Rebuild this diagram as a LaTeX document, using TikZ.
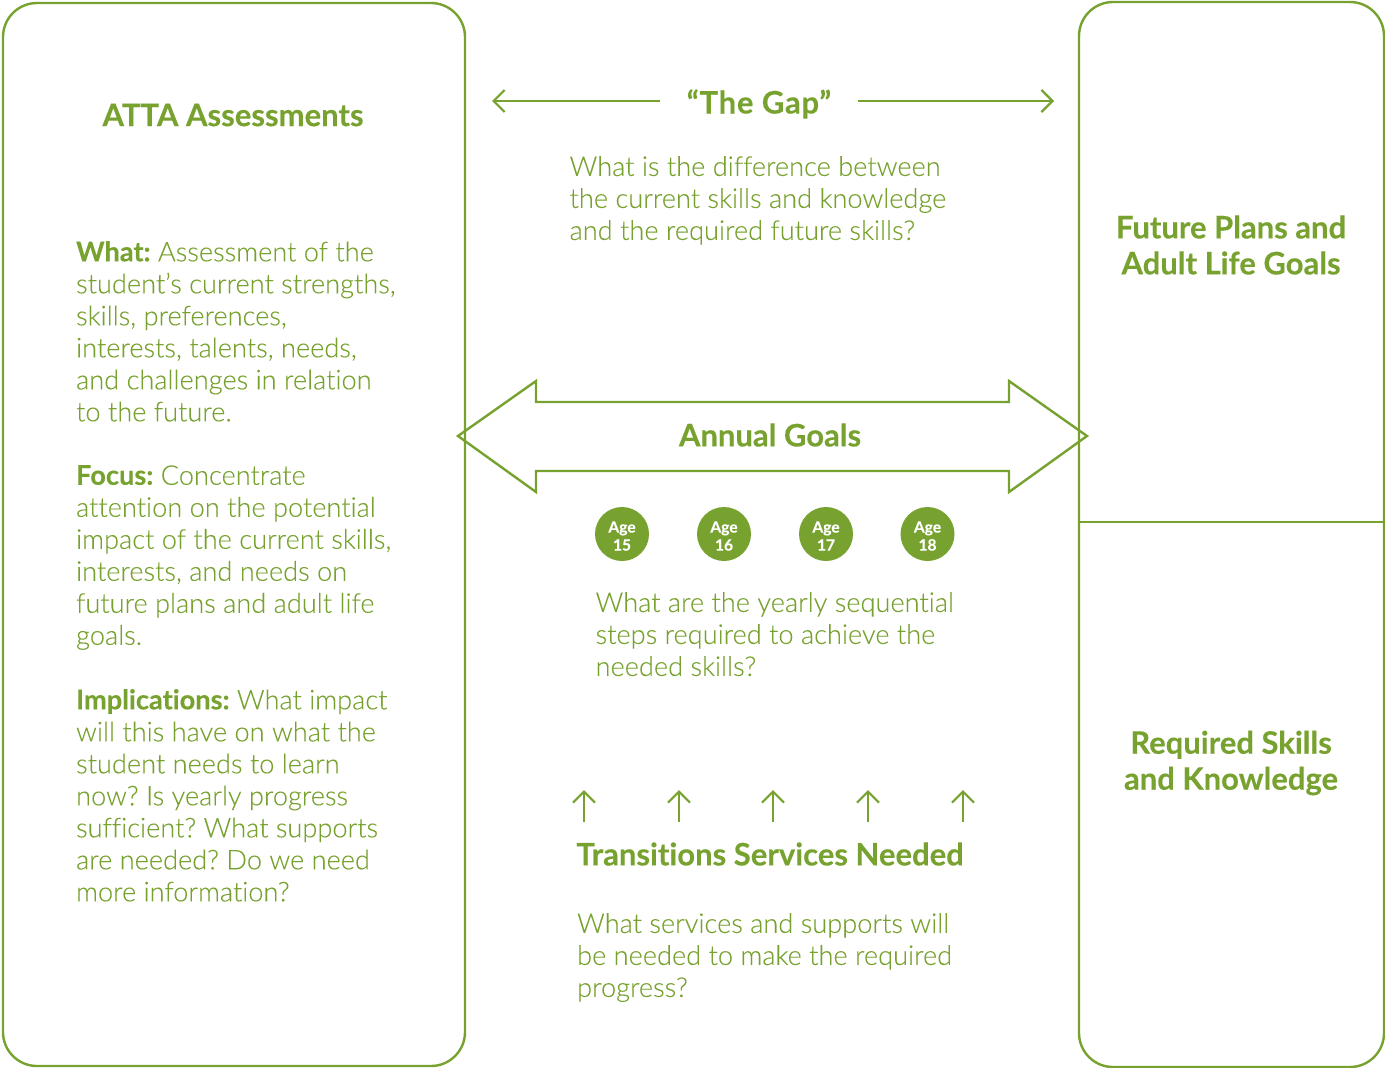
\documentclass[tikz,border=0pt]{standalone}
\usepackage{fontspec}
\setmainfont{Lato}[UprightFont=* Light,UprightFeatures={FakeBold=0.1},BoldFont=* Bold,BoldFeatures={FakeBold=0.25},Ligatures=NoCommon]
\usepackage{tikz}
\usetikzlibrary{positioning,arrows.meta}
\definecolor{attagreen}{HTML}{78A22F}
\begin{document}
\begin{tikzpicture}[x=0.5pt,y=-0.5pt,
line width=1.1pt, color=attagreen, text=attagreen,
>={Straight Barb[length=5.5pt,width=11pt,line width=1.1pt]},
panel/.style = {draw=attagreen, line width=1.2pt, rounded corners=17pt},
heading/.style = {font=\fontsize{15.5}{18}\selectfont\bfseries, align=center, inner sep=0pt},
bodytext/.style = {font=\fontsize{13.6}{16}\selectfont\frenchspacing, align=left, anchor=north west, inner sep=0pt},
agedot/.style = {circle, fill=attagreen, text=white, minimum size=27pt, inner sep=0pt, text height=16.6pt, font=\fontsize{7.8}{9}\selectfont\bfseries, align=center}]
\useasboundingbox (0,0) rectangle (1385,1067);
% panels
\draw[panel] (3,3) rectangle (465,1066);
\draw[panel] (1079,2) rectangle (1384,1067);
\coordinate (splitl) at (1079,522);
\coordinate (splitr) at (1384,522);
\draw (splitl) -- (splitr);
% left column
\node[heading] (atta) at (233,115) {ATTA Assessments};
\node[bodytext] (what) at (75,240) {\textbf{What:} Assessment of the\\student’s current strengths,\\skills, preferences,\\interests, talents, needs,\\and challenges in relation\\to the future.};
\node[bodytext] (focus) at (75,464) {\textbf{Focus:} Concentrate\\attention on the potential\\impact of the current skills,\\interests, and needs on\\future plans and adult life\\goals.};
\node[bodytext] (impl) at (75,688) {\textbf{Implications:} What impact\\will this have on what the\\student needs to learn\\now? Is yearly progress\\sufficient? What supports\\are needed? Do we need\\more information?};
% the gap
\node[heading] (gap) at (759,104) {\addfontfeature{LetterSpace=2.5}“The Gap”};
\coordinate (gapl) at (492,101);
\coordinate (gapr) at (1054,101);
\draw[->] (660,101) -- (gapl);
\draw[->] (858,101) -- (gapr);
\node[bodytext] (gaptext) at (568.5,155) {What is the difference between\\the current skills and knowledge\\and the required future skills?};
% right column
\node[heading] (future) at (1231,245) {Future Plans and\\Adult Life Goals};
\node[heading] (skills) at (1231,763) {Required Skills\\and Knowledge};
% double arrow
\draw[line width=1.2pt, line join=miter] (458,436) -- (536,381) -- (536,402) -- (1009,402) -- (1009,381) -- (1087,436) -- (1009,492) -- (1009,471) -- (536,471) -- (536,492) -- cycle;
\node[heading] (annual) at (770,435) {Annual Goals};
% ages
\node[agedot] (age15) at (622,534) {Age\\15};
\node[agedot] (age16) at (724,534) {Age\\16};
\node[agedot] (age17) at (826,534) {Age\\17};
\node[agedot] (age18) at (927.5,534) {Age\\18};
\node[bodytext] (agetext) at (594.5,591) {What are the yearly sequential\\steps required to achieve the\\needed skills?};
% transition arrows
\foreach \i/\xpos in {1/584,2/679,3/773,4/868,5/963} {
  \coordinate (up\i) at (\xpos,822);
  \coordinate (top\i) at (\xpos,790);
  \draw[->] (up\i) -- (top\i);
}
\node[heading] (trans) at (770,854) {Transitions Services Needed};
\node[bodytext] (transtext) at (576,912) {What services and supports will\\be needed to make the required\\progress?};
\end{tikzpicture}
\end{document}
